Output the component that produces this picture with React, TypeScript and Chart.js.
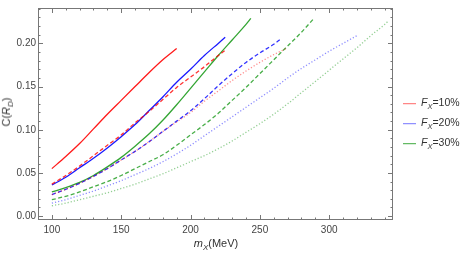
import React, { useEffect, useRef } from "react";
import { Chart, registerables } from "chart.js";
Chart.register(...registerables);

// ---- data ----
const X_TICKS = [100, 150, 200, 250, 300];
const Y_TICKS = [0, 0.05, 0.1, 0.15, 0.2];
const LEGEND_LABELS = ["10%", "20%", "30%"];

const mRedSolid = [100, 110, 120, 130, 140, 150, 160, 170, 180, 190];
const cRedSolid = [0.055, 0.069, 0.084, 0.101, 0.118, 0.134, 0.15, 0.166, 0.181, 0.194];

const mRedDashed = [100, 110, 120, 130, 140, 150, 160, 170, 180, 190, 200, 210, 220, 225];
const cRedDashed = [0.037, 0.047, 0.058, 0.07, 0.082, 0.094, 0.108, 0.121, 0.135, 0.149, 0.161, 0.173, 0.186, 0.192];

const mRedDotted = [100, 110, 120, 130, 140, 150, 160, 170, 180, 190, 200, 210, 220, 230, 240, 250, 260, 269];
const cRedDotted = [0.025, 0.031, 0.038, 0.046, 0.055, 0.065, 0.075, 0.086, 0.098, 0.109, 0.12, 0.133, 0.145, 0.157, 0.168, 0.178, 0.187, 0.194];

const mBlueSolid = [100, 110, 120, 130, 140, 150, 160, 170, 180, 190, 200, 210, 220, 225];
const cBlueSolid = [0.036, 0.045, 0.056, 0.067, 0.079, 0.092, 0.106, 0.122, 0.138, 0.155, 0.17, 0.186, 0.2, 0.207];

const mBlueDashed = [100, 110, 120, 130, 140, 150, 160, 170, 180, 190, 200, 210, 220, 230, 240, 250, 260, 265];
const cBlueDashed = [0.025, 0.031, 0.038, 0.046, 0.055, 0.065, 0.075, 0.086, 0.098, 0.11, 0.122, 0.136, 0.151, 0.165, 0.178, 0.189, 0.199, 0.205];

const mBlueDotted = [100, 110, 120, 130, 140, 150, 160, 170, 180, 190, 200, 210, 220, 230, 240, 250, 260, 270, 280, 290, 300, 310, 320];
const cBlueDotted = [0.015, 0.019, 0.024, 0.029, 0.035, 0.041, 0.048, 0.055, 0.063, 0.072, 0.082, 0.093, 0.104, 0.115, 0.126, 0.137, 0.148, 0.16, 0.171, 0.181, 0.191, 0.2, 0.209];

const mGreenSolid = [100, 110, 120, 130, 140, 150, 160, 170, 180, 190, 200, 210, 220, 230, 240, 243.5];
const cGreenSolid = [0.028, 0.033, 0.039, 0.047, 0.057, 0.068, 0.081, 0.095, 0.111, 0.129, 0.148, 0.167, 0.186, 0.204, 0.222, 0.229];

const mGreenDashed = [100, 110, 120, 130, 140, 150, 160, 170, 180, 190, 200, 210, 220, 230, 240, 250, 260, 270, 280, 289];
const cGreenDashed = [0.019, 0.023, 0.028, 0.034, 0.04, 0.047, 0.055, 0.063, 0.071, 0.082, 0.094, 0.106, 0.119, 0.134, 0.149, 0.165, 0.181, 0.197, 0.213, 0.229];

const mGreenDotted = [100, 110, 120, 130, 140, 150, 160, 170, 180, 190, 200, 210, 220, 230, 240, 250, 260, 270, 280, 290, 300, 310, 320, 330, 340, 342];
const cGreenDotted = [0.012, 0.015, 0.019, 0.023, 0.027, 0.032, 0.037, 0.043, 0.049, 0.056, 0.063, 0.07, 0.078, 0.087, 0.097, 0.107, 0.118, 0.13, 0.143, 0.156, 0.169, 0.182, 0.195, 0.209, 0.222, 0.225];

const RED = "255,0,0";
const BLUE = "0,0,255";
const GREEN = "40,160,40";

const pts = (m: number[], c: number[]) => m.map((v, i) => ({ x: v, y: c[i] }));

const SOLID: number[] = [];
const DASHED = [4, 2.5];
const DOTTED = [1.2, 2];

function ds(m: number[], c: number[], rgb: string, alpha: number, dash: number[]) {
  return {
    data: pts(m, c),
    borderColor: `rgba(${rgb},${alpha})`,
    borderWidth: 1.3,
    borderDash: dash,
    pointRadius: 0,
    fill: false,
    cubicInterpolationMode: "monotone" as const,
  };
}

const framePlugin = {
  id: "frame",
  afterDraw(chart: any) {
    const { ctx, chartArea: a, scales } = chart;
    const x = scales.x;
    const y = scales.y;
    ctx.save();
    ctx.strokeStyle = "#777";
    ctx.lineWidth = 1;
    ctx.strokeRect(a.left + 0.5, a.top + 0.5, a.right - a.left - 1, a.bottom - a.top - 1);
    ctx.beginPath();
    for (let v = 90; v <= 346; v += 10) {
      const px = Math.round(x.getPixelForValue(v)) + 0.5;
      const len = v % 50 === 0 ? 5 : 2.5;
      ctx.moveTo(px, a.bottom);
      ctx.lineTo(px, a.bottom - len);
      ctx.moveTo(px, a.top);
      ctx.lineTo(px, a.top + len);
    }
    for (let k = 0; k <= 24; k++) {
      const py = Math.round(y.getPixelForValue(k / 100)) + 0.5;
      const len = k % 5 === 0 ? 5 : 2.5;
      ctx.moveTo(a.left, py);
      ctx.lineTo(a.left + len, py);
      ctx.moveTo(a.right, py);
      ctx.lineTo(a.right - len, py);
    }
    ctx.stroke();
    ctx.restore();
  },
};

export default function App() {
  const ref = useRef<HTMLCanvasElement>(null);
  useEffect(() => {
    if (!ref.current) return;
    const chart = new Chart(ref.current, {
      type: "line",
      data: {
        datasets: [
          ds(mRedSolid, cRedSolid, RED, 0.9, SOLID),
          ds(mRedDashed, cRedDashed, RED, 0.8, DASHED),
          ds(mRedDotted, cRedDotted, RED, 0.45, DOTTED),
          ds(mBlueSolid, cBlueSolid, BLUE, 0.9, SOLID),
          ds(mBlueDashed, cBlueDashed, BLUE, 0.8, DASHED),
          ds(mBlueDotted, cBlueDotted, BLUE, 0.45, DOTTED),
          ds(mGreenSolid, cGreenSolid, GREEN, 0.95, SOLID),
          ds(mGreenDashed, cGreenDashed, GREEN, 0.85, DASHED),
          ds(mGreenDotted, cGreenDotted, GREEN, 0.5, DOTTED),
        ] as any,
      },
      options: {
        animation: false,
        responsive: false,
        devicePixelRatio: 1,
        layout: { padding: { top: 1, right: 71, left: 0, bottom: 0 } },
        plugins: { legend: { display: false }, tooltip: { enabled: false } },
        scales: {
          x: {
            type: "linear",
            min: 90,
            max: 346,
            grid: { display: false, drawTicks: false },
            border: { display: false },
            afterBuildTicks: (s: any) => {
              s.ticks = X_TICKS.map((v) => ({ value: v }));
            },
            afterFit: (s: any) => {
              s.height = 33;
            },
            ticks: {
              padding: 4,
              color: "#444",
              font: { family: "Liberation Sans", size: 10 },
              maxRotation: 0,
              autoSkip: false,
              callback: (v: any) => String(v),
            },
          },
          y: {
            type: "linear",
            min: -0.0045,
            max: 0.241,
            grid: { display: false, drawTicks: false },
            border: { display: false },
            afterBuildTicks: (s: any) => {
              s.ticks = Y_TICKS.map((v) => ({ value: v }));
            },
            afterFit: (s: any) => {
              s.width = 38;
            },
            ticks: {
              padding: 2,
              color: "#444",
              font: { family: "Liberation Sans", size: 10 },
              autoSkip: false,
              callback: (v: any) => Number(v).toFixed(2),
            },
          },
        },
      },
      plugins: [framePlugin],
    });
    return () => chart.destroy();
  }, []);

  const legendColors = ["rgba(255,0,0,0.6)", "rgba(0,0,255,0.55)", "rgba(40,160,40,0.9)"];
  const legendY = [104, 124, 144];

  return (
    <div style={{ position: "fixed", left: 0, top: 0, width: 464, height: 253, background: "#fff", fontFamily: "Liberation Sans, Arial, sans-serif", color: "#333" }}>
      <canvas ref={ref} width={464} height={253} style={{ position: "absolute", left: 0, top: 0, width: 464, height: 253 }} />
      <div style={{ position: "absolute", left: 8, top: 112, transform: "translate(-50%,-50%) rotate(-90deg)", fontSize: 11, whiteSpace: "nowrap", lineHeight: 1 }}>
        C(<i>R</i><sub style={{ fontSize: 8, fontStyle: "italic" }}>D</sub>)
      </div>
      <div style={{ position: "absolute", left: 216, top: 245, transform: "translate(-50%,-50%)", fontSize: 11, whiteSpace: "nowrap", lineHeight: 1 }}>
        <i>m</i><sub style={{ fontSize: 8, fontStyle: "italic" }}>X</sub>(MeV)
      </div>
      {LEGEND_LABELS.map((lab, i) => (
        <div key={lab} style={{ position: "absolute", left: 403, top: legendY[i], transform: "translateY(-50%)", display: "flex", alignItems: "center", fontSize: 10.5, whiteSpace: "nowrap", lineHeight: 1 }}>
          <span style={{ display: "inline-block", width: 13, height: 0, borderTop: `1.3px solid ${legendColors[i]}`, marginRight: 5 }} />
          <span>
            <i>F</i><sub style={{ fontSize: 7.5, fontStyle: "italic" }}>X</sub>={lab}
          </span>
        </div>
      ))}
    </div>
  );
}
